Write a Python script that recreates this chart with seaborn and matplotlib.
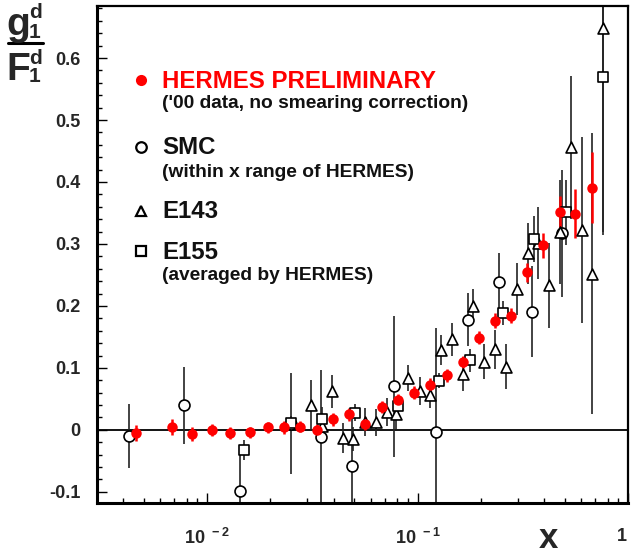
import numpy as np
import pandas as pd
import matplotlib
matplotlib.use("Agg")
import matplotlib.pyplot as plt
from matplotlib.ticker import MultipleLocator, FixedLocator, NullFormatter, LogLocator
from matplotlib.lines import Line2D
import seaborn as sns

# HERMES preliminary ('00 data)
hermes_x = [0.0046, 0.0068, 0.0085, 0.0105, 0.0129, 0.0160, 0.0194, 0.0233, 0.0277,
            0.0334, 0.0398, 0.0475, 0.0565, 0.0676, 0.0805, 0.0963, 0.115, 0.1376,
            0.164, 0.196, 0.233, 0.278, 0.333, 0.395, 0.475, 0.562, 0.675]
hermes_y = [-0.005, 0.004, -0.0065, 0.0, -0.005, -0.004, 0.004, 0.004, 0.005,
            0.000, 0.017, 0.025, 0.010, 0.037, 0.048, 0.060, 0.073, 0.088,
            0.110, 0.149, 0.176, 0.184, 0.254, 0.298, 0.351, 0.349, 0.391]
hermes_err = [0.013, 0.013, 0.011, 0.010, 0.010, 0.009, 0.009, 0.010, 0.009,
              0.010, 0.010, 0.010, 0.010, 0.010, 0.010, 0.010, 0.010, 0.010,
              0.010, 0.010, 0.012, 0.012, 0.016, 0.020, 0.026, 0.039, 0.057]

# SMC
smc_x = [0.00428, 0.0078, 0.0144, 0.025, 0.0347, 0.049, 0.0773, 0.122, 0.174, 0.245, 0.349, 0.486]
smc_y = [-0.010, 0.040, -0.098, 0.010, -0.012, -0.058, 0.070, -0.003, 0.178, 0.239, 0.191, 0.317]
smc_err = [0.052, 0.062, 0.058, 0.081, 0.108, 0.094, 0.113, 0.168, 0.043, 0.046, 0.073, 0.103]

# E143
e143_x = [0.0311, 0.0351, 0.0391, 0.0443, 0.0493, 0.0565, 0.0635, 0.0714, 0.079, 0.0904,
          0.1029, 0.1145, 0.1295, 0.146, 0.164, 0.184, 0.2075, 0.233, 0.263, 0.297,
          0.334, 0.373, 0.423, 0.475, 0.535, 0.607, 0.677, 0.764]
e143_y = [0.040, 0.007, 0.062, -0.013, -0.015, 0.013, 0.012, 0.029, 0.025, 0.084,
          0.063, 0.056, 0.129, 0.146, 0.090, 0.200, 0.110, 0.130, 0.102, 0.227,
          0.285, 0.301, 0.233, 0.319, 0.456, 0.323, 0.252, 0.648]
e143_err = [0.041, 0.020, 0.026, 0.024, 0.019, 0.023, 0.022, 0.023, 0.023, 0.021,
            0.023, 0.021, 0.024, 0.026, 0.027, 0.028, 0.028, 0.031, 0.036, 0.042,
            0.049, 0.058, 0.068, 0.084, 0.115, 0.150, 0.227, 0.333]

# E155 (averaged by HERMES)
e155_x = [0.0150, 0.0250, 0.0351, 0.0505, 0.081, 0.127, 0.178, 0.254, 0.358, 0.507, 0.764]
e155_y = [-0.032, 0.011, 0.017, 0.028, 0.038, 0.079, 0.112, 0.189, 0.308, 0.351, 0.570]
e155_err = [0.016, 0.012, 0.020, 0.013, 0.012, 0.012, 0.019, 0.019, 0.037, 0.052, 0.25]

x_ticks = [0.01, 0.1, 1.0]
x_tick_labels = [r"$\mathbf{10^{\ -2}}$", r"$\mathbf{10^{\ -1}}$", r"$\mathbf{1}$"]
y_ticks = [-0.1, 0, 0.1, 0.2, 0.3, 0.4, 0.5, 0.6]
y_tick_labels = ["-0.1", "0", "0.1", "0.2", "0.3", "0.4", "0.5", "0.6"]

sns.set_theme(style="ticks")
plt.rcParams["font.family"] = ["Liberation Sans", "DejaVu Sans"]
plt.rcParams["font.weight"] = "bold"
plt.rcParams["mathtext.fontset"] = "custom"
plt.rcParams["mathtext.bf"] = "Liberation Sans:bold"
plt.rcParams["mathtext.rm"] = "Liberation Sans:bold"

W, H = 631, 556
fig = plt.figure(figsize=(W / 100, H / 100), dpi=100)
fig.patch.set_facecolor("white")
ax = fig.add_axes([97 / W, 1 - 503 / H, (628 - 97) / W, (503 - 6) / H])
ax.set_facecolor("white")

ax.set_xscale("log")
ax.set_xlim(0.0030, 1.0)
ax.set_ylim(-0.118, 0.684)

ax.axhline(0, color="black", lw=1.3, zorder=1)

series = [
    (smc_x, smc_y, smc_err, "o", 62, "white", "black", "#222222", 1.2),
    (e143_x, e143_y, e143_err, "^", 62, "white", "black", "#222222", 1.2),
    (e155_x, e155_y, e155_err, "s", 46, "white", "black", "#222222", 1.2),
    (hermes_x, hermes_y, hermes_err, "o", 40, "red", "red", "red", 1.8),
]
for xs, ys, es, mk, size, fc, ec, barc, blw in series:
    ax.errorbar(xs, ys, yerr=es, fmt="none", ecolor=barc, elinewidth=blw,
                capsize=0, zorder=2)
    sns.scatterplot(x=xs, y=ys, marker=mk, s=size, color=fc, edgecolor=ec,
                    linewidth=1.2, ax=ax, zorder=3, legend=False)

ax.xaxis.set_major_locator(FixedLocator(x_ticks))
ax.set_xticklabels(x_tick_labels, fontsize=13)
for lab in ax.get_xticklabels()[-1:]:
    lab.set_horizontalalignment("right")
ax.xaxis.set_minor_locator(LogLocator(base=10, subs=np.arange(2, 10)))
ax.xaxis.set_minor_formatter(NullFormatter())
ax.set_yticks(y_ticks)
ax.set_yticklabels(y_tick_labels, fontsize=13, fontweight="bold")
ax.yaxis.set_minor_locator(MultipleLocator(0.02))
ax.tick_params(which="both", direction="in", top=False, right=False, color="black")
ax.tick_params(which="major", length=7, width=1.0)
ax.tick_params(which="minor", length=3.5, width=1.0)
ax.tick_params(axis="y", pad=12)
ax.tick_params(axis="x", pad=18)
for side, lw in [("left", 2.2), ("bottom", 2.2), ("top", 1.6), ("right", 1.6)]:
    ax.spines[side].set_visible(True)
    ax.spines[side].set_linewidth(lw)
    ax.spines[side].set_color("black")
ax.set_xlabel("")
ax.set_ylabel("")


def fx(px):
    return px / W


def fy(py):
    return 1 - py / H


# axis titles
fig.text(fx(548), fy(538), "x", fontsize=25, fontweight="bold", ha="center", va="center")
fig.text(fx(18), fy(25), "g", fontsize=28, fontweight="bold", ha="center", va="center")
fig.text(fx(35), fy(13), "d", fontsize=15, fontweight="bold", ha="center", va="center")
fig.text(fx(35), fy(33), "1", fontsize=15, fontweight="bold", ha="center", va="center")
fig.add_artist(Line2D([fx(8), fx(43)], [fy(43), fy(43)], color="black", lw=2.2))
fig.text(fx(18), fy(70), "F", fontsize=28, fontweight="bold", ha="center", va="center")
fig.text(fx(36), fy(58), "d", fontsize=15, fontweight="bold", ha="center", va="center")
fig.text(fx(35), fy(77), "1", fontsize=15, fontweight="bold", ha="center", va="center")

# legend
leg_marks = [
    (80, "o", 6.4, "red", "red"),
    (147, "o", 7.6, "white", "black"),
    (211, "^", 7.6, "white", "black"),
    (251, "s", 7.0, "white", "black"),
]
for py, mk, ms, fc, ec in leg_marks:
    fig.add_artist(Line2D([fx(141)], [fy(py)], marker=mk, markersize=ms,
                          markerfacecolor=fc, markeredgecolor=ec,
                          markeredgewidth=1.6, linestyle="none"))
leg_texts = [
    (82, "HERMES PRELIMINARY", 17.3, "red"),
    (104, "('00 data, no smearing correction)", 13.8, "#111111"),
    (148, "SMC", 17.3, "#111111"),
    (172, "(within x range of HERMES)", 13.8, "#111111"),
    (211, "E143", 17.3, "#111111"),
    (252, "E155", 17.3, "#111111"),
    (276, "(averaged by HERMES)", 13.8, "#111111"),
]
for py, txt, fs, col in leg_texts:
    fig.text(fx(162), fy(py), txt, fontsize=fs, fontweight="bold", color=col,
             ha="left", va="center")

fig.savefig("out.png", dpi=100, facecolor="white")
